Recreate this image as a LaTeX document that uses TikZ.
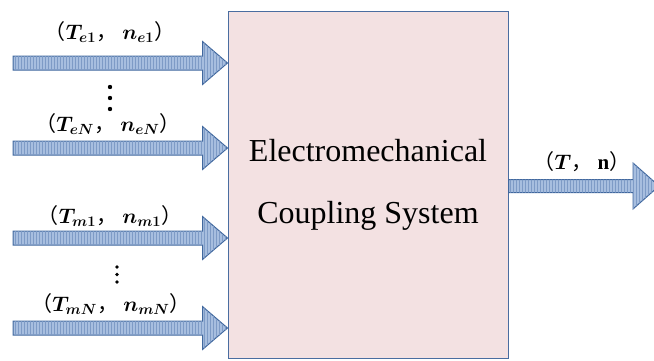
\RequirePackage{fix-cm}
\documentclass[tikz,border=0pt]{standalone}
\usepackage{fontspec}
\setmainfont{Liberation Serif}
\newfontfamily\cjk{Noto Sans CJK SC}
\usepackage{bm}
\usetikzlibrary{calc,patterns}

\definecolor{arrowfill}{HTML}{A7BEDF}
\definecolor{arrowline}{HTML}{41689E}
\definecolor{stripe}{HTML}{7E9BC6}
\definecolor{boxfill}{HTML}{F3E1E2}
\definecolor{boxline}{HTML}{4A6DA0}

\tikzset{
  flow/.style={draw=arrowline, line width=1pt, fill=arrowfill,
    postaction={pattern=vertical lines, pattern color=stripe}},
  sysbox/.style={draw=boxline, line width=1pt, fill=boxfill, align=center,
    minimum width=280pt, minimum height=347pt,
    font=\fontsize{32}{62}\selectfont},
  tag/.style={inner sep=0pt, font=\fontsize{21}{24}\selectfont},
}

\begin{document}
\begin{tikzpicture}[x=1pt,y=-1pt]
      \clip (0,0) rectangle (654,360);

      \node[sysbox] (sys) at (368,184.5) {Electromechanical\\Coupling System};

      \coordinate (ine1) at (13,63);
      \coordinate (ineN) at (13,148);
      \coordinate (inm1) at (13,238);
      \coordinate (inmN) at (13,328);
      \coordinate (out) at (659,186);

      \foreach \i in {e1,eN,m1,mN}{
        \draw[flow] let \p1=(in\i), \p2=(sys.west |- in\i) in
          (\x1,\y1-7) -- (\x2-25,\y1-7) -- (\x2-25,\y1-21.5) -- (\x2,\y1)
          -- (\x2-25,\y1+21.5) -- (\x2-25,\y1+7) -- (\x1,\y1+7) -- cycle; }
      \draw[flow] let \p1=(sys.east |- out), \p2=(out) in
          (\x1,\y1-6.5) -- (\x2-26,\y1-6.5) -- (\x2-26,\y1-23) -- (\x2,\y1)
          -- (\x2-26,\y1+23) -- (\x2-26,\y1+6.5) -- (\x1,\y1+6.5) -- cycle;

      \node[tag] (le1) at (110,32) {{\cjk （}$\bm{T}_{\bm{e1}}${\cjk ，} $\bm{n}_{\bm{e1}}${\cjk ）}};
      \node[tag] (leN) at (108,124) {{\cjk （}$\bm{T}_{\bm{eN}}${\cjk ，} $\bm{n}_{\bm{eN}}${\cjk ）}};
      \node[tag] (lm1) at (110,216) {{\cjk （}$\bm{T}_{\bm{m1}}${\cjk ，} $\bm{n}_{\bm{m1}}${\cjk ）}};
      \node[tag] (lmN) at (111,304) {{\cjk （}$\bm{T}_{\bm{mN}}${\cjk ，} $\bm{n}_{\bm{mN}}${\cjk ）}};
      \node[tag] (lout) at (582,162) {{\cjk （}$\bm{T}${\cjk ，} \textbf{n}{\cjk ）}};

      \foreach \y in {87,98,109}{
        \fill (110,\y) circle (2.2pt); }
      \foreach \y in {267,274.5,282}{
        \fill (117,\y) circle (1.8pt); }
    \end{tikzpicture}
\end{document}
